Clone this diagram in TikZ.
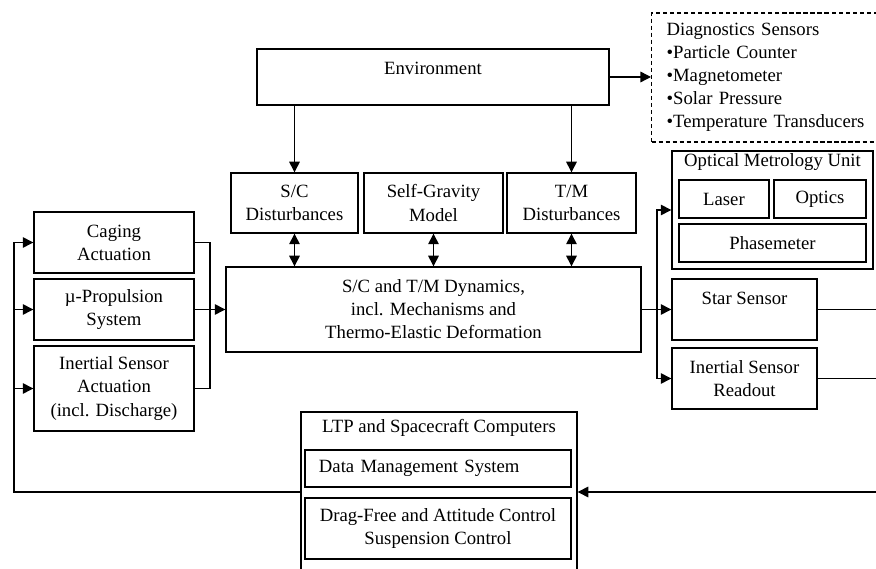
\documentclass[tikz,border=0pt]{standalone}
\usepackage{fontspec}
\setmainfont{Liberation Serif}
\usetikzlibrary{arrows.meta}

\newcommand\pxl{0.025cm}
\tikzset{
  blk/.style={draw, line width=1pt, align=center, inner sep=0pt},
  sz/.style 2 args={minimum width=#1*\pxl, minimum height=#2*\pxl},
  wire/.style={line width=1pt},
  >={Triangle[length=7.5pt,width=7.5pt]}
}

\begin{document}
\begin{tikzpicture}[x=\pxl, y=-\pxl, font=\fontsize{13.3}{16.4}\selectfont]
\useasboundingbox (0,0) rectangle (876,569);
\clip (0,0) rectangle (876,569);

% Environment and disturbances
\node[blk, sz={352}{56}, label={[anchor=center,yshift=-14.2pt]north:Environment}] (env) at (433,77) {};
\node[blk, sz={249}{129}, dash pattern=on 3pt off 2pt, line width=0.8pt, anchor=west,
      text width=5.475cm, align=left, inner xsep=0.375cm] (diag) at (651,77.5)
  {Diagnostics Sensors\\•Particle Counter\\•Magnetometer\\•Solar Pressure\\•Temperature Transducers};
\node[blk, sz={127}{60}] (scd) at (294.5,203) {S/C\\Disturbances};
\node[blk, sz={139}{60}] (sgm) at (433.5,203) {Self-Gravity\\Model};
\node[blk, sz={129}{60}] (tmd) at (571.5,203) {T/M\\Disturbances};
\node[blk, sz={415}{85}] (dyn) at (433.5,309.5) {S/C and T/M Dynamics,\\incl. Mechanisms and\\Thermo-Elastic Deformation};

% Actuators
\node[blk, sz={160}{61}] (cag) at (114,242.5) {Caging\\Actuation};
\node[blk, sz={160}{61}] (prop) at (114,309.5) {µ-Propulsion\\System};
\node[blk, sz={160}{85}] (isa) at (114,388.5) {Inertial Sensor\\Actuation\\(incl. Discharge)};

% Sensors
\node[blk, sz={201}{118}, label={[anchor=center,yshift=-8.5pt]north:Optical Metrology Unit}] (omu) at (772.5,210) {};
\node[blk, sz={90}{38}] (laser) at (724,199) {Laser};
\node[blk, sz={92}{38}] (optics) at (820,199) {Optics};
\node[blk, sz={187}{38}] (phase) at (772.5,243) {Phasemeter};
\node[blk, sz={145}{61}, label={[anchor=center,yshift=-14.2pt]north:Star Sensor}] (star) at (744.5,309.5) {};
\node[blk, sz={145}{61}] (isr) at (744.5,378.5) {Inertial Sensor\\Readout};

% Computers
\node[blk, sz={276}{188}, label={[anchor=center,yshift=-12.1pt]north:LTP and Spacecraft Computers}] (ltp) at (439,506) {};
\node[blk, sz={266}{37}, text width=5.95cm, align=left, inner xsep=0.35cm] (dms) at (438,468.5) {Data Management System};
\node[blk, sz={266}{61}] (dfc) at (438,528.5) {Drag-Free and Attitude Control\\Suspension Control};

\coordinate (lft) at (14,492);
\coordinate (rin) at (876,492);
\coordinate (mrg) at (210,309.5);
\coordinate (spl) at (657,309.5);
\coordinate (sso) at (876,309.5);
\coordinate (iso) at (876,378.5);

% Connections
\draw[wire,->] (env.south -| scd.north) -- (scd.north);
\draw[wire,->] (env.south -| tmd.north) -- (tmd.north);
\draw[wire,->] (env.east) -- (env.east -| diag.west);
\foreach \n in {scd,sgm,tmd}
  \draw[wire,<->] (\n.south) -- (\n.south |- dyn.north);

\draw[wire] (cag.east) -| (mrg) |- (isa.east);
\draw[wire,->] (prop.east) -- (dyn.west);

\draw[wire,->] (dyn.east) -- (star.west);
\draw[wire,->] (spl) |- (omu.west);
\draw[wire,->] (spl) |- (isr.west);
\draw[wire] (star.east) -- (sso);
\draw[wire] (isr.east) -- (iso);

% feedback loop
\draw[wire,->] (rin) -- (rin -| ltp.east);
\draw[wire,->] (lft -| ltp.west) -- (lft) |- (cag.west);
\draw[wire,->] (lft |- prop.west) -- (prop.west);
\draw[wire,->] (lft |- isa.west) -- (isa.west);

\end{tikzpicture}
\end{document}
